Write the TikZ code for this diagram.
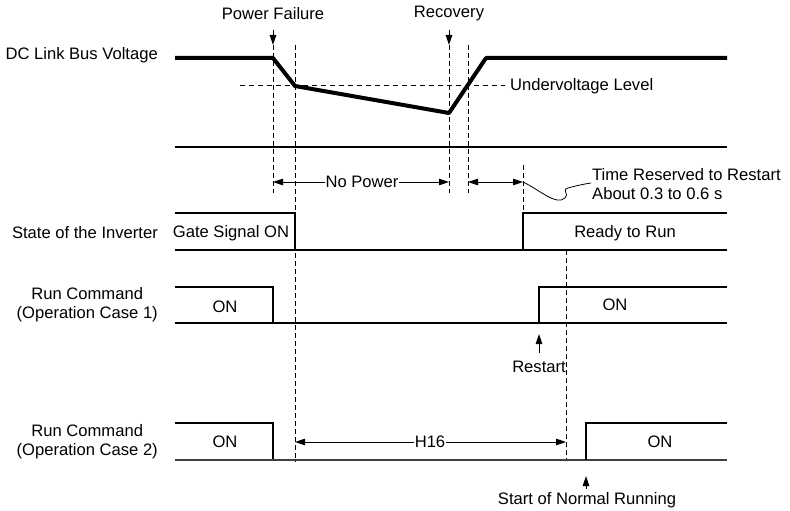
\documentclass[tikz,border=0pt]{standalone}
\usepackage{fontspec}
\setmainfont{Liberation Sans}
\usetikzlibrary{arrows.meta}
\begin{document}
\begin{tikzpicture}[x=1pt,y=-1pt,
  lbl/.style={font=\fontsize{16.6}{19}\selectfont, inner sep=0pt, align=center},
  sig/.style={line width=1.2pt, line join=miter},
  volt/.style={line width=4pt, line join=round},
  dsh/.style={line width=1pt, dash pattern=on 5pt off 3pt},
  tipend/.style={-{Triangle[length=10pt,width=6.5pt]}, line width=1pt},
  bothend/.style={{Triangle[length=10pt,width=6.5pt]}-{Triangle[length=10pt,width=6.5pt]}, line width=1pt},
]
\useasboundingbox (0,0) rectangle (790,511);

% ---------- labels on the left
\node[lbl, anchor=east] (lDC) at (158,55) {DC Link Bus Voltage};
\node[lbl, anchor=east] (lInv) at (158,233) {State of the Inverter};
\node[lbl, anchor=east] (lRun1) at (158,305) {Run Command\\(Operation Case 1)};
\node[lbl, anchor=east] (lRun2) at (158,442) {Run Command\\(Operation Case 2)};

% ---------- key coordinates
\coordinate (vA) at (175,58);
\coordinate (vB) at (273,58);
\coordinate (vC) at (295,86);
\coordinate (vD) at (449,113);
\coordinate (vE) at (486,58);
\coordinate (vF) at (727,58);

% ---------- DC link bus voltage
\draw[dsh, dash pattern=on 5pt off 4pt] (240,86) -- (505,86);
\node[lbl, anchor=west] (uv) at (510,86) {Undervoltage Level};
\draw[volt] (vA) -- (vB) -- (vC) -- (vD) -- (vE) -- (vF);

% event labels
\node[lbl] (pf) at (273,14) {Power Failure};
\node[lbl] (rc) at (449,14) {Recovery};
\coordinate (pfTip) at (273,45);
\coordinate (rcTip) at (449,45);
\draw[tipend] (pf.south |- 0,30) -- (pfTip);
\draw[tipend] (rc.south |- 0,30) -- (rcTip);

% separator line
\draw[sig] (175,147) -- (727,147);

% dashed verticals
\draw[dsh] (273,45) -- (273,193);
\draw[dsh] (295,45) -- (295,462);
\draw[dsh] (449,45) -- (449,193);
\draw[dsh] (468,45) -- (468,193);
\draw[dsh] (523,165) -- (523,213);
\draw[dsh] (566,250) -- (566,460);

% No power arrow
\coordinate (np1) at (273,182);
\coordinate (np2) at (449,182);
\draw[bothend] (np1) -- (np2);
\node[lbl, fill=white, inner xsep=1pt] (np) at (362,182) {No Power};

% time reserved arrow
\coordinate (tr1) at (468,182);
\coordinate (tr2) at (523,182);
\draw[bothend] (tr1) -- (tr2);
\node[lbl, anchor=west, align=left] (tr) at (592,184) {Time Reserved to Restart\\About 0.3 to 0.6 s};
\draw[line width=0.8pt] (tr2) .. controls (540,190) and (556,206) .. (565,198)
  .. controls (570,194) and (561,190) .. (568,188)
  .. controls (575,186) and (584,184) .. (591,183);

% ---------- state of the inverter
\draw[sig] (175,213) -- (295,213) -- (295,250);
\draw[sig] (175,250) -- (727,250);
\draw[sig] (523,250) -- (523,213) -- (727,213);
\node[lbl] (gs) at (231,233) {Gate Signal ON};
\node[lbl] (rr) at (625,233) {Ready to Run};

% ---------- run command case 1
\draw[sig] (175,287) -- (273,287) -- (273,323);
\draw[sig] (175,323) -- (727,323);
\draw[sig] (539,323) -- (539,287) -- (727,287);
\node[lbl] (on1a) at (225,307) {ON};
\node[lbl] (on1b) at (615,305) {ON};
\node[lbl] (rs) at (539,367) {Restart};
\coordinate (rsTip) at (539,334);
\draw[tipend] (539,353) -- (rsTip);

% ---------- run command case 2
\draw[sig] (175,423) -- (273,423) -- (273,460);
\draw[sig, draw=black!75, line width=1.6pt] (175,460) -- (727,460);
\draw[sig] (586,460) -- (586,423) -- (727,423);
\node[lbl] (on2a) at (225,442) {ON};
\node[lbl] (on2b) at (660,442) {ON};
\coordinate (h1) at (295,442);
\coordinate (h2) at (566,442);
\draw[bothend] (h1) -- (h2);
\node[lbl, fill=white, inner xsep=1pt] (h16) at (430,442) {H16};
\node[lbl] (snr) at (587,500) {Start of Normal Running};
\coordinate (snTip) at (586,476);
\draw[tipend] (586,489) -- (snTip);
\end{tikzpicture}
\end{document}
